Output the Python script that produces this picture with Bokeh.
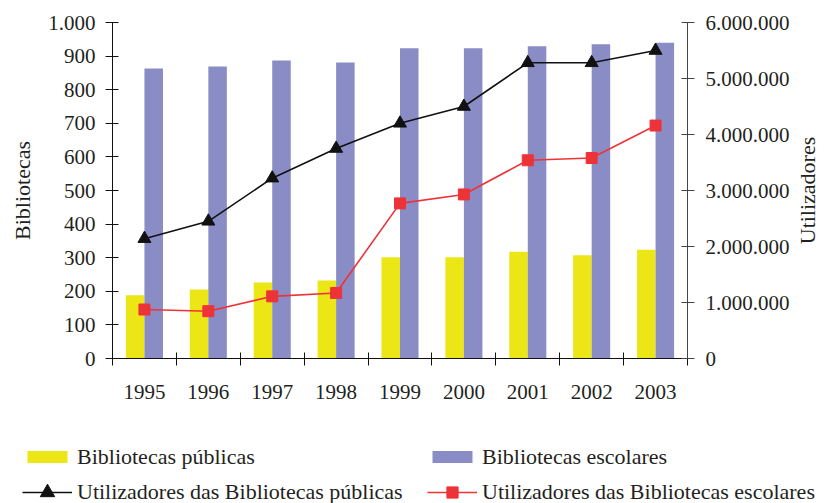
import numpy as np
from math import pi
from bokeh.plotting import figure
from bokeh.models import (ColumnDataSource, Range1d, LinearAxis, FixedTicker,
                          Legend, LegendItem, Label)
from bokeh.transform import dodge
from bokeh.embed import file_html
from bokeh.resources import INLINE

# ---- data ----
years = ["1995", "1996", "1997", "1998", "1999", "2000", "2001", "2002", "2003"]
bib_publicas = [188, 205, 226, 232, 301, 301, 318, 307, 324]
bib_escolares = [863, 869, 887, 881, 923, 923, 929, 935, 940]
util_publicas = [2140000, 2450000, 3220000, 3750000, 4200000, 4500000, 5280000, 5280000, 5500000]
util_escolares = [875000, 845000, 1110000, 1170000, 2770000, 2930000, 3540000, 3580000, 4160000]
left_ticks = [0, 100, 200, 300, 400, 500, 600, 700, 800, 900, 1000]
left_tick_labels = ["0", "100", "200", "300", "400", "500", "600", "700", "800", "900", "1.000"]
right_ticks = [0, 1000000, 2000000, 3000000, 4000000, 5000000, 6000000]
right_tick_labels = ["0", "1.000.000", "2.000.000", "3.000.000", "4.000.000", "5.000.000", "6.000.000"]

FONT = "Liberation Serif"
TXT = "#231f20"
YELLOW = "#ECE617"
BLUE = "#8A8DC5"
RED = "#EE3338"
BLACK = "#111111"

# ---- layout (pixels) ----
W, H = 824, 503
PLOT_L, PLOT_R, PLOT_T, PLOT_B = 112, 687, 22, 358

n = len(years)
ymax_left = left_ticks[-1]
ymax_right = right_ticks[-1]
ppx = (PLOT_R - PLOT_L) / n
ppy = (PLOT_B - PLOT_T) / ymax_left
x_range = Range1d(-PLOT_L / ppx, n + (W - PLOT_R) / ppx)
y_range = Range1d(-(H - PLOT_B) / ppy, ymax_left + PLOT_T / ppy)
k = ymax_right / ymax_left
util_range = Range1d(y_range.start * k, y_range.end * k)

centers = list(np.arange(n) + 0.5)
bounds = list(np.arange(n + 1).astype(float))

src = ColumnDataSource(dict(x=centers, pub=bib_publicas, esc=bib_escolares,
                            upub=util_publicas, uesc=util_escolares))

p = figure(width=W, height=H, output_backend="svg", toolbar_location=None,
           x_range=x_range, y_range=y_range, title=None,
           x_axis_type=None, y_axis_type=None, min_border=0)
p.extra_y_ranges = {"util": util_range}
p.outline_line_color = None
p.background_fill_color = "white"
p.border_fill_color = "white"
p.xgrid.visible = False
p.ygrid.visible = False

bw = 0.29
r_pub = p.vbar(x=dodge("x", -bw / 2), top="pub", width=bw, source=src,
               fill_color=YELLOW, line_color=None)
r_esc = p.vbar(x=dodge("x", bw / 2), top="esc", width=bw, source=src,
               fill_color=BLUE, line_color=None)

l_pub = p.line("x", "upub", source=src, y_range_name="util", line_color=BLACK, line_width=1.6)
m_pub = p.scatter("x", "upub", source=src, y_range_name="util", marker="triangle",
                  size=13, fill_color=BLACK, line_color=BLACK)
l_esc = p.line("x", "uesc", source=src, y_range_name="util", line_color=RED, line_width=1.6)
m_esc = p.scatter("x", "uesc", source=src, y_range_name="util", marker="square",
                  size=11, fill_color=RED, line_color=RED)

# ---- axes ----
xa = LinearAxis(fixed_location=0, bounds=(0, n),
                ticker=FixedTicker(ticks=centers, minor_ticks=bounds))
xa.major_label_overrides = {c: y for c, y in zip(centers, years)}
xa.major_tick_in = 0
xa.major_tick_out = 0
xa.minor_tick_in = 6
xa.minor_tick_out = 7
xa.minor_tick_line_color = BLACK
xa.axis_line_color = BLACK
xa.major_label_standoff = 19
xa.major_label_text_font = FONT
xa.major_label_text_font_size = "21px"
xa.major_label_text_color = TXT
p.add_layout(xa, "below")

ya = LinearAxis(fixed_location=0, bounds=(0, ymax_left), ticker=FixedTicker(ticks=left_ticks))
ya.major_label_overrides = {t: s for t, s in zip(left_ticks, left_tick_labels)}
ya.major_tick_in = 6
ya.major_tick_out = 7
ya.minor_tick_line_color = None
ya.axis_line_color = BLACK
ya.major_tick_line_color = BLACK
ya.major_label_standoff = 10
ya.major_label_text_font = FONT
ya.major_label_text_font_size = "21px"
ya.major_label_text_color = TXT
ya.axis_label = "Bibliotecas"
ya.axis_label_text_font = FONT
ya.axis_label_text_font_size = "22px"
ya.axis_label_text_font_style = "normal"
ya.axis_label_text_color = TXT
ya.axis_label_standoff = 10
p.add_layout(ya, "left")

ra = LinearAxis(y_range_name="util", fixed_location=n, bounds=(0, ymax_right),
                ticker=FixedTicker(ticks=right_ticks))
ra.major_label_overrides = {t: s for t, s in zip(right_ticks, right_tick_labels)}
ra.major_tick_in = 6
ra.major_tick_out = 7
ra.minor_tick_line_color = None
ra.axis_line_color = "#444444"
ra.major_tick_line_color = "#444444"
ra.major_label_standoff = 11
ra.major_label_text_font = FONT
ra.major_label_text_font_size = "21px"
ra.major_label_text_color = TXT
p.add_layout(ra, "right")

p.add_layout(Label(x=n, y=ymax_right / 2, y_range_name="util", x_offset=120,
                   text="Utilizadores", angle=pi / 2, text_align="center",
                   text_baseline="middle", text_font=FONT, text_font_size="22px",
                   text_color=TXT))

# ---- legends (one per entry, placed like the reference's 2x2 key) ----
def add_key(label, renderers, left, cy, gh, lh):
    lg = Legend(items=[LegendItem(label=label, renderers=renderers)],
                location=(left, H - cy - max(gh, lh) / 2),
                padding=0, margin=0, border_line_color=None, background_fill_alpha=0,
                glyph_width=50, glyph_height=gh, label_height=lh, label_standoff=5,
                label_text_font=FONT, label_text_font_size="22px", label_text_color=TXT)
    p.add_layout(lg)

add_key("Bibliotecas públicas", [r_pub], 22, 462, 15, 15)
add_key("Bibliotecas escolares", [r_esc], 427, 462, 15, 15)
add_key("Utilizadores das Bibliotecas públicas", [l_pub, m_pub], 22, 492, 36, 36)
add_key("Utilizadores das Bibliotecas escolares", [l_esc, m_esc], 427, 492, 28, 28)

open("out.html", "w").write(file_html(p, INLINE))
